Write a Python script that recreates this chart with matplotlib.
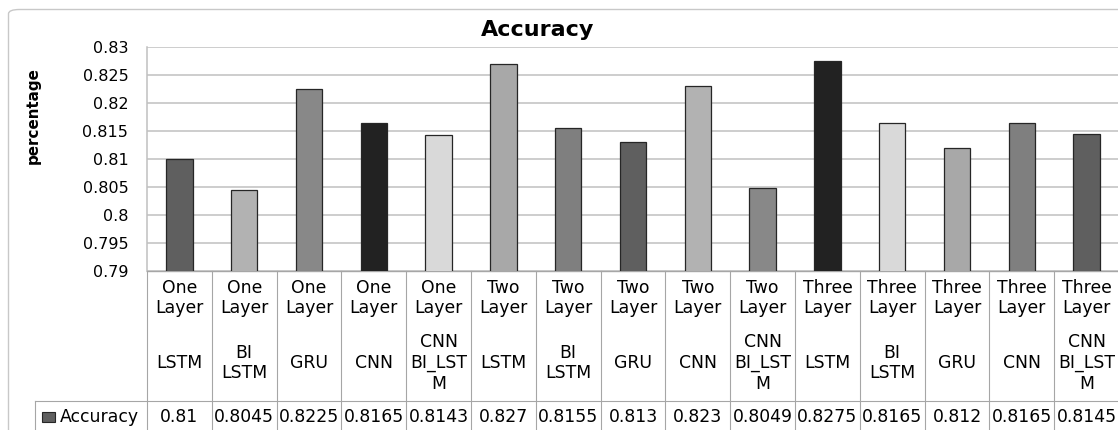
import matplotlib
matplotlib.use("Agg")
import matplotlib.pyplot as plt
from matplotlib import transforms
from matplotlib.patches import FancyBboxPatch, Rectangle

# data
layers = ["One\nLayer"] * 5 + ["Two\nLayer"] * 5 + ["Three\nLayer"] * 5
models = ["LSTM", "BI\nLSTM", "GRU", "CNN", "CNN\nBI_LST\nM"] * 3
accuracy = [0.81, 0.8045, 0.8225, 0.8165, 0.8143,
            0.827, 0.8155, 0.813, 0.823, 0.8049,
            0.8275, 0.8165, 0.812, 0.8165, 0.8145]
y_ticks = [0.79, 0.795, 0.8, 0.805, 0.81, 0.815, 0.82, 0.825, 0.83]
bar_colors = ["#5f5f5f", "#b2b2b2", "#888888", "#222222", "#d9d9d9", "#a8a8a8", "#7f7f7f"]

W, H = 1118, 430
GRID = "#c0c0c0"
TABLE = "#a6a6a6"

fig = plt.figure(figsize=(W / 100, H / 100), dpi=100)

def fy(py):
    # pixel row (from top) -> figure fraction
    return 1 - py / H

# outer chart frame, runs off the right and bottom edge like the screenshot
frame = FancyBboxPatch((8.5 / W, fy(440)), 1130 / W, (440 - 9.5) / H,
                       boxstyle="round,pad=0,rounding_size=0.01",
                       transform=fig.transFigure, fill=False,
                       edgecolor="#c8c8c8", linewidth=1.0)
fig.patches.append(frame)

ax = fig.add_axes([147 / W, fy(271), (1119 - 147) / W, (271 - 47) / H])
n = len(accuracy)
xs = [i + 0.5 for i in range(n)]
colors = [bar_colors[i % len(bar_colors)] for i in range(n)]
ax.bar(xs, accuracy, width=0.41, color=colors, edgecolor="#262626", linewidth=0.9, zorder=3)

ax.set_xlim(0, n)
ax.set_ylim(0.79, 0.83)
ax.set_yticks(y_ticks)
ax.set_yticklabels([f"{v:g}" for v in y_ticks], fontsize=11.5)
ax.set_xticks([])
ax.tick_params(axis="y", length=0, pad=13.5)
ax.grid(axis="y", color=GRID, linewidth=1.1, zorder=0)
for side in ["top", "right"]:
    ax.spines[side].set_visible(False)
ax.spines["left"].set_color(GRID)
ax.spines["left"].set_linewidth(1.1)
ax.spines["bottom"].set_color(TABLE)
ax.spines["bottom"].set_linewidth(1.0)

fig.text(538 / W, fy(30), "Accuracy", ha="center", va="center",
         fontsize=16, fontweight="bold")
fig.text(33 / W, fy(116), "percentage", ha="center", va="center",
         rotation=90, fontsize=10.9, fontweight="bold")

# data table under the plot
tr = transforms.blended_transform_factory(ax.transData, fig.transFigure)
for i in range(n + 1):
    ax.plot([i, i], [fy(271), fy(440)], transform=tr, color=TABLE,
            linewidth=0.8, clip_on=False)
fig.add_artist(plt.Line2D([35 / W, 1.0], [fy(401), fy(401)], color=TABLE, linewidth=0.8))
fig.add_artist(plt.Line2D([35 / W, 35 / W], [fy(401), fy(440)], color=TABLE, linewidth=0.8))

for i in range(n):
    ax.text(xs[i], fy(298), layers[i], transform=tr, ha="center", va="center",
            fontsize=12.4, linespacing=1.2, clip_on=False)
    ax.text(xs[i], fy(363), models[i], transform=tr, ha="center", va="center",
            fontsize=12.4, linespacing=1.2, clip_on=False)
    ax.text(xs[i], fy(417), f"{accuracy[i]:g}", transform=tr, ha="center", va="center",
            fontsize=12.4, clip_on=False)

fig.patches.append(Rectangle((42 / W, fy(422)), 13 / W, 10.5 / H, transform=fig.transFigure,
                             facecolor=bar_colors[0], edgecolor="#262626", linewidth=0.8))
fig.text(60 / W, fy(417), "Accuracy", ha="left", va="center", fontsize=12.4)

fig.savefig("out.png", dpi=100, facecolor="white")
